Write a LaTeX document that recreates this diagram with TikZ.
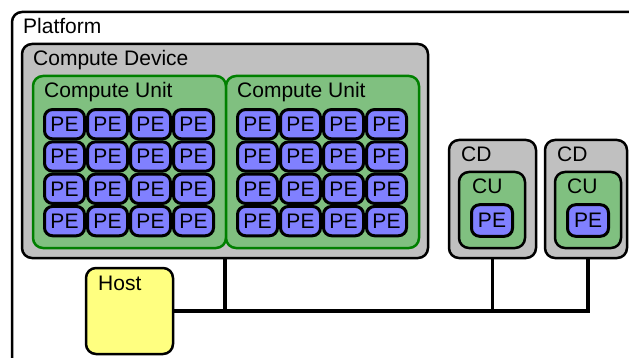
\documentclass[tikz,border=0pt]{standalone}
\usepackage{fontspec}
\setmainfont{Liberation Sans}
\usepackage{tikz}
\usetikzlibrary{positioning, fit, calc}

\definecolor{cdgray}{RGB}{192,192,192}
\definecolor{cugreen}{RGB}{128,192,128}
\definecolor{cuedge}{RGB}{0,128,0}
\definecolor{peblue}{RGB}{128,128,255}
\definecolor{hostyellow}{RGB}{255,255,128}

\begin{document}
\begin{tikzpicture}[x=1pt, y=-1pt,
    every node/.style={font=\fontsize{21}{25}\selectfont},
    box/.style={draw, line width=2.5pt, rounded corners=10pt, inner sep=0pt},
    devbox/.style={box, fill=cdgray},
    unitbox/.style={box, fill=cugreen, draw=cuedge},
    smallunit/.style={box, fill=cugreen},
    pe/.style={box, line width=3pt, fill=peblue, rounded corners=8pt, minimum width=40pt, minimum height=29.3pt},
    tag/.style={anchor=base west, inner sep=0pt},
    bus/.style={line width=3.5pt}]
  \useasboundingbox (0,0) rectangle (629,358);

  % platform frame, runs off the page
  \node[box, fill=white, fit={(12,12) (680,420)}] (platform) {};
  \node[tag] (platform-tag) at (23,34) {Platform};

  % the big compute device with two units of 4x4 PEs
  \node[devbox, fit={(22,44) (428,258)}] (cd) {};
  \node[tag] (cd-tag) at (33,66) {Compute Device};
  \node[unitbox, fit={(33,76) (226,248)}] (cu-a) {};
  \node[unitbox, fit={(226,76) (419,248)}] (cu-b) {};
  \node[tag] (cu-a-tag) at (44,98) {Compute Unit};
  \node[tag] (cu-b-tag) at (237,98) {Compute Unit};
  \foreach \u/\x in {a/64.5, b/257.5} {
    \foreach \r in {0,...,3} {
      \foreach \c in {0,...,3} {
        \node[pe] (pe-\u-\r\c) at ({\x+43*\c}, {124.2+32.3*\r}) {PE};
      }
    }
  }

  % two small devices, one unit and one PE each
  \node[devbox, fit={(449,140) (536,258)}] (cd-1) {};
  \node[devbox, fit={(545,140) (627,258)}] (cd-2) {};
  \node[tag] (cd-1-tag) at (461,162) {CD};
  \node[tag] (cd-2-tag) at (557,162) {CD};
  \node[smallunit, fit={(459,172) (525,248)}] (cu-1) {};
  \node[smallunit, fit={(555,172) (621,248)}] (cu-2) {};
  \node[tag] (cu-1-tag) at (472,194) {CU};
  \node[tag] (cu-2-tag) at (567,194) {CU};
  \node[pe, minimum width=41pt, minimum height=31.5pt] (pe-1) at (492,220.5) {PE};
  \node[pe, minimum width=41pt, minimum height=31.5pt] (pe-2) at (588,220.5) {PE};

  % host
  \node[box, fill=hostyellow, fit={(86,268) (173,354)}] (host) {};
  \node[tag] (host-tag) at (98,290) {Host};

  % bus from the host to every device
  \draw[bus] (host.east) -- (host.east -| pe-2) -- (pe-2 |- cd-2.south);
  \draw[bus] (cd.south) -- (cd.south |- host.east);
  \draw[bus] (cd-1.south) -- (cd-1.south |- host.east);
\end{tikzpicture}
\end{document}
